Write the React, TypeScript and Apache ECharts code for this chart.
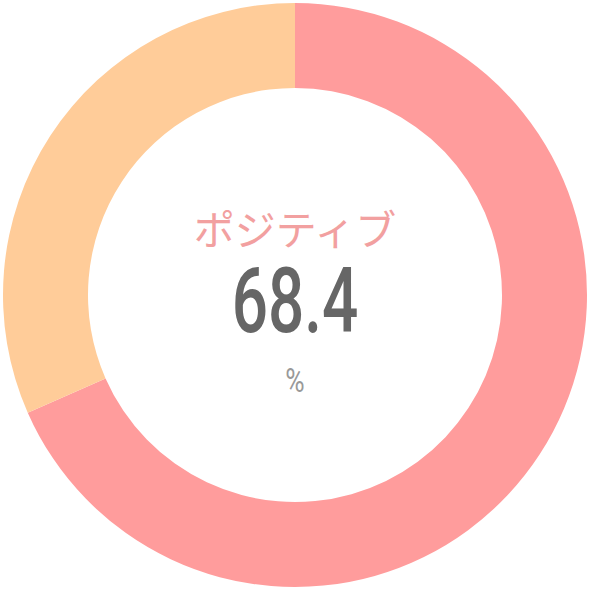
import React, { useEffect, useRef } from "react";
import * as echarts from "echarts";

const categories = ["ポジティブ", "その他"];
const values = [68.4, 31.6];
const colors = ["#FF9C9C", "#FFCC99"];
const centerLabel = "ポジティブ";
const centerValue = "68.4";
const centerUnit = "%";

export default function App() {
  const ref = useRef<HTMLDivElement>(null);
  useEffect(() => {
    if (!ref.current) return;
    const chart = echarts.init(ref.current, undefined, { renderer: "svg" });
    chart.setOption({
      animation: false,
      backgroundColor: "#ffffff",
      series: [
        {
          type: "pie",
          center: [295, 295],
          radius: [207, 292],
          startAngle: 90,
          clockwise: true,
          label: { show: false },
          labelLine: { show: false },
          emphasis: { disabled: true },
          silent: true,
          data: categories.map((c, i) => ({
            name: c,
            value: values[i],
            itemStyle: { color: colors[i] },
          })),
        },
      ],
      graphic: [
        {
          type: "text",
          x: 295,
          y: 227,
          style: {
            text: centerLabel,
            fill: "#F2A0A0",
            font: '41px "Noto Sans CJK JP"',
            lineHeight: 42,
            textAlign: "center",
            textVerticalAlign: "middle",
          },
        },
        {
          type: "text",
          x: 295,
          y: 301,
          scaleX: 0.71,
          style: {
            text: centerValue,
            fill: "#666666",
            font: '500 90px Roboto, sans-serif',
            lineHeight: 70,
            textAlign: "center",
            textVerticalAlign: "middle",
          },
        },
        {
          type: "text",
          x: 295,
          y: 380,
          scaleX: 0.8,
          style: {
            text: centerUnit,
            fill: "#999999",
            font: '33px Roboto, sans-serif',
            lineHeight: 32,
            textAlign: "center",
            textVerticalAlign: "middle",
          },
        },
      ],
    });
    return () => chart.dispose();
  }, []);
  return (
    <div
      ref={ref}
      style={{ position: "fixed", left: 0, top: 0, width: 590, height: 590 }}
    />
  );
}
